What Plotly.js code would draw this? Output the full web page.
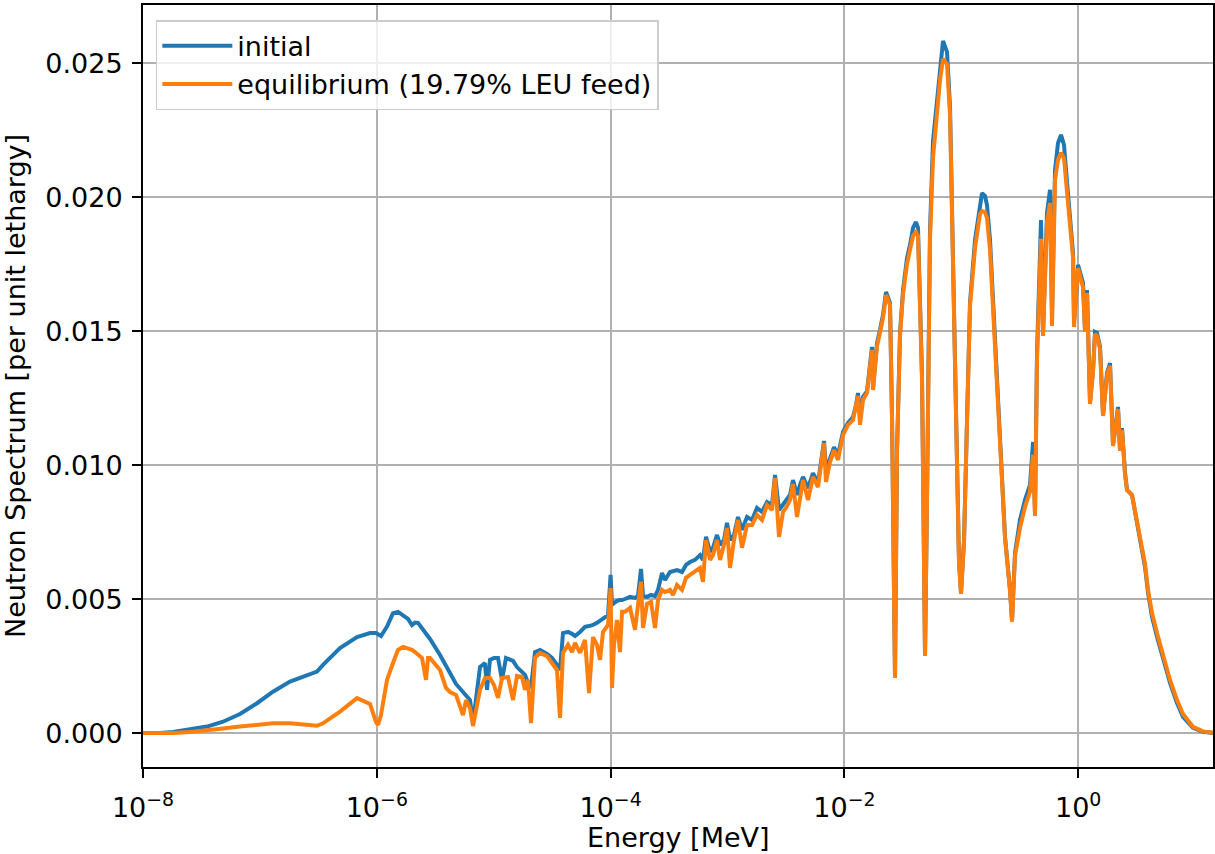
<!DOCTYPE html>
<html><head><meta charset="utf-8">
<script src="https://cdn.plot.ly/plotly-3.0.1.min.js"></script>
<style>html,body{margin:0;padding:0;background:#fff;} #chart{width:1215px;height:854px;}</style>
</head><body><div id="chart"></div>
<script>
// Energy grid [MeV]
const energyMeV = [
1.000e-8,1.398e-8,1.805e-8,2.524e-8,3.528e-8,4.834e-8,6.758e-8,9.445e-8,1.294e-7,1.809e-7,
2.529e-7,3.079e-7,3.466e-7,4.844e-7,6.771e-7,8.746e-7,9.845e-7,1.024e-6,1.086e-6,1.223e-6,
1.376e-6,1.519e-6,1.675e-6,1.849e-6,2.000e-6,2.122e-6,2.251e-6,2.436e-6,2.636e-6,2.742e-6,
2.851e-6,3.473e-6,3.908e-6,4.229e-6,4.759e-6,5.462e-6,5.797e-6,6.271e-6,6.652e-6,7.196e-6,
7.634e-6,8.426e-6,8.764e-6,9.297e-6,1.006e-5,1.088e-5,1.178e-5,1.274e-5,1.325e-5,1.463e-5,
1.582e-5,1.746e-5,1.852e-5,1.965e-5,2.085e-5,2.256e-5,2.490e-5,2.857e-5,3.153e-5,3.479e-5,
3.691e-5,3.915e-5,4.321e-5,4.675e-5,4.961e-5,5.473e-5,6.039e-5,6.535e-5,7.070e-5,7.648e-5,
8.119e-5,8.610e-5,9.500e-5,1.000e-4,1.028e-4,1.069e-4,1.134e-4,1.203e-4,1.252e-4,1.328e-4,
1.466e-4,1.617e-4,1.716e-4,1.820e-4,1.893e-4,2.048e-4,2.216e-4,2.398e-4,2.544e-4,2.753e-4,
2.920e-4,3.222e-4,3.418e-4,3.698e-4,4.082e-4,4.416e-4,4.778e-4,5.272e-4,5.819e-4,6.171e-4,
6.549e-4,7.085e-4,7.516e-4,8.133e-4,8.627e-4,9.335e-4,9.901e-4,1.051e-3,1.137e-3,1.230e-3,
1.330e-3,1.469e-3,1.620e-3,1.788e-3,1.973e-3,2.177e-3,2.403e-3,2.549e-3,2.758e-3,2.984e-3,
3.165e-3,3.424e-3,3.634e-3,3.931e-3,4.171e-3,4.425e-3,4.883e-3,5.387e-3,5.946e-3,6.184e-3,
6.691e-3,6.959e-3,7.530e-3,8.147e-3,8.816e-3,9.727e-3,1.073e-2,1.185e-2,1.257e-2,1.307e-2,
1.360e-2,1.443e-2,1.561e-2,1.722e-2,1.757e-2,1.900e-2,2.016e-2,2.139e-2,2.269e-2,2.455e-2,
2.554e-2,2.709e-2,2.818e-2,2.990e-2,3.172e-2,3.431e-2,3.641e-2,3.862e-2,4.098e-2,4.262e-2,
4.611e-2,4.796e-2,4.893e-2,5.089e-2,5.397e-2,5.726e-2,6.196e-2,6.574e-2,6.974e-2,7.546e-2,
8.007e-2,8.492e-2,9.188e-2,9.557e-2,9.940e-2,1.055e-1,1.119e-1,1.187e-1,1.310e-1,1.445e-1,
1.503e-1,1.595e-1,1.659e-1,1.760e-1,1.867e-1,2.143e-1,2.365e-1,2.610e-1,2.715e-1,2.880e-1,
3.178e-1,3.506e-1,3.870e-1,4.106e-1,4.270e-1,4.442e-1,4.806e-1,5.000e-1,5.409e-1,5.738e-1,
5.969e-1,6.333e-1,6.717e-1,7.128e-1,7.560e-1,8.023e-1,8.343e-1,8.679e-1,9.027e-1,9.207e-1,
9.766e-1,9.961e-1,1.057,1.099,1.143,1.189,1.262,1.339,1.392,1.448,
1.537,1.630,1.764,1.871,1.985,2.190,2.278,2.370,2.514,2.615,
2.885,3.061,3.247,3.514,3.727,3.955,4.279,4.722,5.314,6.100,
7.002,7.879,9.594,11.69,14.51
];
// Neutron spectrum per unit lethargy, initial core
const fluxInitial = [
0.00001,0.00001,0.00005,0.00014,0.00025,0.00043,0.00072,0.00112,0.00155,0.00193,
0.00218,0.00230,0.00255,0.00318,0.00359,0.00374,0.00374,0.00371,0.00363,0.00398,
0.00448,0.00453,0.00441,0.00427,0.00404,0.00413,0.00412,0.00393,0.00374,0.00363,
0.00352,0.00292,0.00248,0.00225,0.00184,0.00154,0.00143,0.00124,0.00038,0.00162,
0.00247,0.00262,0.00162,0.00274,0.00281,0.00281,0.00199,0.00281,0.00277,0.00270,
0.00247,0.00229,0.00218,0.00188,0.00169,0.00303,0.00311,0.00296,0.00281,0.00255,
0.00236,0.00374,0.00378,0.00371,0.00363,0.00378,0.00397,0.00400,0.00404,0.00412,
0.00419,0.00430,0.00441,0.00591,0.00479,0.00486,0.00494,0.00497,0.00497,0.00501,
0.00509,0.00505,0.00512,0.00613,0.00512,0.00509,0.00516,0.00512,0.00535,0.00598,
0.00572,0.00602,0.00606,0.00609,0.00602,0.00628,0.00639,0.00647,0.00665,0.00647,
0.00733,0.00677,0.00692,0.00740,0.00703,0.00721,0.00785,0.00721,0.00740,0.00807,
0.00759,0.00807,0.00796,0.00841,0.00826,0.00863,0.00852,0.00964,0.00833,0.00852,
0.00870,0.00889,0.00945,0.00889,0.00927,0.00957,0.00915,0.00971,0.00934,0.00994,
0.01091,0.00983,0.01027,0.01068,0.01038,0.01124,0.01158,0.01180,0.01225,0.01270,
0.01188,0.01255,0.01277,0.01442,0.01289,0.01456,0.01505,0.01561,0.01647,0.01606,
0.01184,0.00206,0.01057,0.01494,0.01654,0.01773,0.01822,0.01886,0.01908,0.01886,
0.01337,0.00721,0.00292,0.00882,0.01878,0.02210,0.02371,0.02483,0.02584,0.02543,
0.02337,0.01766,0.00983,0.00639,0.00524,0.00721,0.01169,0.01606,0.01841,0.01983,
0.02016,0.02005,0.01971,0.01841,0.01606,0.01106,0.00733,0.00535,0.00419,0.00673,
0.00796,0.00871,0.00927,0.01087,0.00822,0.01419,0.01915,0.01490,0.01942,0.02028,
0.01561,0.02102,0.02203,0.02233,0.02196,0.02057,0.01964,0.01886,0.01793,0.01542,
0.01665,0.01748,0.01710,0.01680,0.01505,0.01654,0.01236,0.01356,0.01498,0.01494,
0.01442,0.01188,0.01345,0.01382,0.01076,0.01218,0.01057,0.01139,0.00971,0.00908,
0.00889,0.00822,0.00770,0.00673,0.00621,0.00524,0.00434,0.00360,0.00274,0.00188,
0.00113,0.00061,0.00020,0.00005,0.00001
];
// Neutron spectrum per unit lethargy, equilibrium core (19.79% LEU feed)
const fluxEquilibrium = [
0.00001,0.00001,0.00001,0.00005,0.00010,0.00018,0.00025,0.00031,0.00037,0.00037,
0.00032,0.00028,0.00037,0.00081,0.00131,0.00109,0.00042,0.00031,0.00068,0.00199,
0.00262,0.00311,0.00322,0.00318,0.00311,0.00303,0.00292,0.00281,0.00199,0.00281,
0.00281,0.00236,0.00169,0.00154,0.00143,0.00068,0.00124,0.00094,0.00027,0.00117,
0.00162,0.00206,0.00206,0.00206,0.00180,0.00132,0.00206,0.00210,0.00210,0.00124,
0.00214,0.00210,0.00162,0.00199,0.00038,0.00281,0.00300,0.00288,0.00262,0.00236,
0.00057,0.00300,0.00330,0.00303,0.00337,0.00300,0.00348,0.00150,0.00359,0.00330,
0.00274,0.00378,0.00404,0.00542,0.00169,0.00330,0.00423,0.00303,0.00453,0.00453,
0.00468,0.00386,0.00479,0.00565,0.00393,0.00483,0.00490,0.00393,0.00497,0.00535,
0.00527,0.00535,0.00516,0.00553,0.00535,0.00580,0.00591,0.00602,0.00617,0.00565,
0.00721,0.00647,0.00665,0.00721,0.00647,0.00703,0.00766,0.00617,0.00721,0.00796,
0.00692,0.00777,0.00777,0.00815,0.00796,0.00852,0.00833,0.00953,0.00733,0.00826,
0.00841,0.00870,0.00930,0.00807,0.00889,0.00945,0.00870,0.00957,0.00919,0.00983,
0.01083,0.00938,0.01012,0.01057,0.01020,0.01113,0.01151,0.01169,0.01218,0.01259,
0.01151,0.01244,0.01270,0.01430,0.01281,0.01445,0.01494,0.01550,0.01636,0.01598,
0.01177,0.00206,0.01050,0.01483,0.01639,0.01751,0.01804,0.01856,0.01871,0.01856,
0.01318,0.00714,0.00288,0.00870,0.01841,0.02147,0.02318,0.02438,0.02516,0.02498,
0.02308,0.01748,0.00975,0.00636,0.00520,0.00714,0.01162,0.01594,0.01811,0.01938,
0.01949,0.01945,0.01923,0.01804,0.01587,0.01095,0.00729,0.00531,0.00416,0.00662,
0.00766,0.00845,0.00901,0.01039,0.00811,0.01393,0.01845,0.01483,0.01908,0.01979,
0.01520,0.02065,0.02140,0.02166,0.02147,0.02020,0.01930,0.01860,0.01774,0.01516,
0.01654,0.01736,0.01692,0.01665,0.01498,0.01643,0.01229,0.01348,0.01490,0.01483,
0.01434,0.01184,0.01337,0.01371,0.01072,0.01210,0.01054,0.01132,0.00967,0.00908,
0.00889,0.00826,0.00777,0.00680,0.00632,0.00535,0.00449,0.00374,0.00289,0.00199,
0.00124,0.00072,0.00024,0.00007,0.00001
];
const seriesNames = ['initial', 'equilibrium (19.79% LEU feed)'];
const xTickValues = [1e-8, 1e-6, 1e-4, 1e-2, 1];
const xTickLabels = ['10<sup>−8</sup>', '10<sup>−6</sup>', '10<sup>−4</sup>', '10<sup>−2</sup>', '10<sup>0</sup>'];
const yTickValues = [0, 0.005, 0.010, 0.015, 0.020, 0.025];
const yTickLabels = ['0.000', '0.005', '0.010', '0.015', '0.020', '0.025'];
const xLabel = 'Energy [MeV]';
const yLabel = 'Neutron Spectrum [per unit lethargy]';

const FONT = 'DejaVu Sans, Liberation Sans, sans-serif';
const traces = [
  {x: energyMeV, y: fluxInitial, name: seriesNames[0], type: 'scatter', mode: 'lines',
   line: {color: '#1f77b4', width: 4}},
  {x: energyMeV, y: fluxEquilibrium, name: seriesNames[1], type: 'scatter', mode: 'lines',
   line: {color: '#ff7f0e', width: 4}}
];
const axisCommon = {
  showline: true, linecolor: '#000', linewidth: 2, mirror: true,
  ticks: 'outside', ticklen: 9, tickwidth: 2, tickcolor: '#000',
  showgrid: true, gridcolor: '#b0b0b0', gridwidth: 2, zeroline: false,
  tickfont: {family: FONT, size: 27, color: '#000'}
};
const layout = {
  width: 1215, height: 854,
  margin: {l: 143, r: 2, t: 5, b: 87},
  paper_bgcolor: '#fff', plot_bgcolor: '#fff',
  font: {family: FONT, size: 27, color: '#000'},
  showlegend: true,
  legend: {x: 0.012, y: 0.98, xanchor: 'left', yanchor: 'top',
    itemwidth: 70,
    bgcolor: 'rgba(255,255,255,0.8)', bordercolor: '#cccccc', borderwidth: 1.5,
    font: {family: FONT, size: 27, color: '#000'}},
  xaxis: Object.assign({}, axisCommon, {
    type: 'log', range: [-8, 1.153],
    tickmode: 'array', tickvals: xTickValues, ticktext: xTickLabels,
    ticklabelstandoff: 7
  }),
  yaxis: Object.assign({}, axisCommon, {
    range: [-0.00126, 0.02718],
    tickmode: 'array', tickvals: yTickValues, ticktext: yTickLabels,
    ticklabelstandoff: 4,
    title: {text: yLabel, font: {family: FONT, size: 27, color: '#000'}, standoff: 14}
  }),
  annotations: [{
    text: xLabel, xref: 'paper', yref: 'paper', x: 0.5, y: 0,
    xanchor: 'center', yanchor: 'middle', yshift: -70, showarrow: false,
    font: {family: FONT, size: 27, color: '#000'}
  }]
};
Plotly.newPlot('chart', traces, layout, {displayModeBar: false, staticPlot: true});
</script>
</body></html>
